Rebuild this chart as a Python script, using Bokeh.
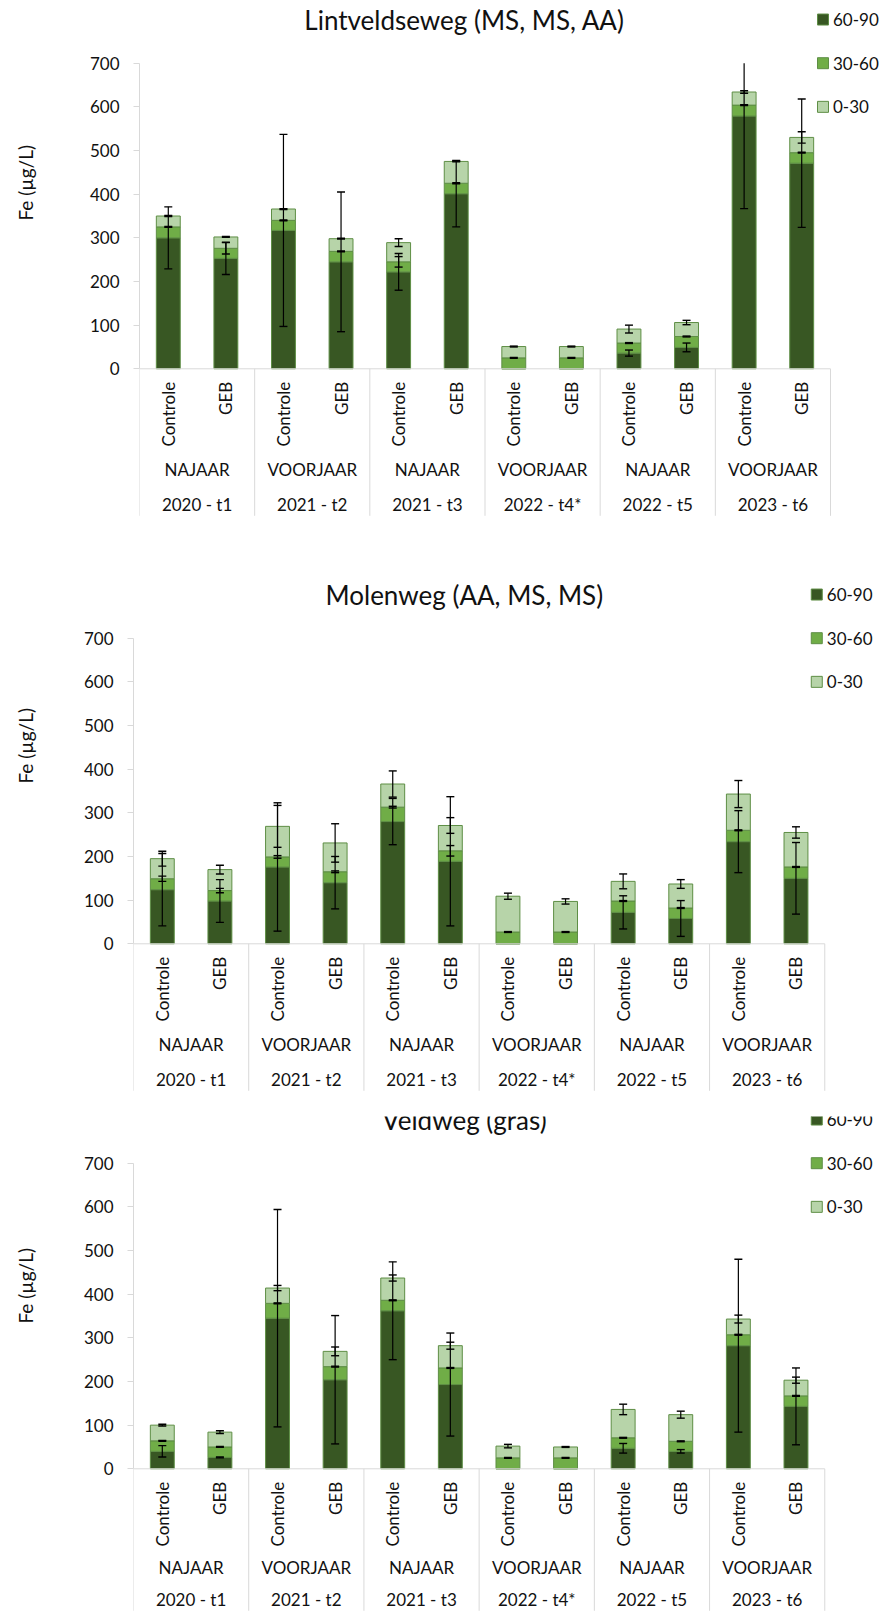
import numpy as np
from bokeh.plotting import figure
from bokeh.models import ColumnDataSource, Range1d, LinearAxis, FixedTicker
from bokeh.layouts import column, row
from bokeh.embed import file_html
from bokeh.resources import INLINE
from bokeh.core.properties import value

# ---- categories ---------------------------------------------------------
periods = ["2020 - t1", "2021 - t2", "2021 - t3", "2022 - t4*", "2022 - t5", "2023 - t6"]
seasons = ["NAJAAR", "VOORJAAR", "NAJAAR", "VOORJAAR", "NAJAAR", "VOORJAAR"]
treatments = ["Controle", "GEB"]
layers = ["60-90", "30-60", "0-30"]          # soil depth (cm), bottom to top of the stack
y_ticks = [0, 100, 200, 300, 400, 500, 600, 700]

# ---- Lintveldseweg (MS, MS, AA): Fe (ug/L) per depth layer -----------------
lint_6090 = [300, 253, 317, 245, 222, 401, 0, 0, 36, 49, 579, 471]
lint_3060 = [25, 23, 23, 24, 23, 24, 25, 25, 23, 25, 25, 24]
lint_030 = [25, 26, 26, 29, 44, 50, 26, 26, 32, 32, 30, 35]
lint_err_6090 = [71, 37, 220, 160, 42, 76, 0, 0, 7, 10, 212, 147]
lint_err_3060 = [1, 13, 1, 1, 12, 1, 1, 1, 1, 1, 1, 1]
lint_err_030 = [1, 1, 1, 1, 9, 1, 1, 1, 9, 5, 3, 13]

# ---- Molenweg (AA, MS, MS) -----------------------------------------------
mol_6090 = [124, 98, 176, 140, 280, 189, 0, 0, 72, 58, 234, 150]
mol_3060 = [25, 24, 23, 25, 33, 24, 27, 27, 26, 24, 26, 26]
mol_030 = [46, 48, 70, 66, 53, 58, 82, 70, 45, 55, 83, 79]
mol_err_6090 = [83, 49, 147, 60, 53, 148, 0, 0, 38, 41, 71, 82]
mol_err_3060 = [6, 5, 3, 2, 2, 12, 1, 1, 1, 1, 1, 1]
mol_err_030 = [17, 10, 48, 44, 30, 18, 7, 6, 17, 10, 31, 13]

# ---- Veldweg (gras) ------------------------------------------------------
veld_6090 = [40, 26, 345, 204, 362, 193, 0, 0, 47, 40, 282, 143]
veld_3060 = [24, 24, 34, 30, 24, 38, 25, 25, 24, 23, 25, 24]
veld_030 = [36, 34, 35, 35, 51, 51, 27, 25, 65, 61, 36, 36]
veld_err_6090 = [13, 1, 249, 147, 112, 118, 0, 0, 11, 4, 198, 88]
veld_err_3060 = [1, 1, 1, 1, 1, 1, 1, 1, 1, 1, 1, 1]
veld_err_030 = [2, 3, 6, 10, 7, 8, 4, 1, 12, 8, 9, 7]

# ---- styling -------------------------------------------------------------
FONT = "Lato"
COLORS = ["#385723", "#70AD47", "#B7D4A9"]
OUTLINE = "#5E8E45"
AXIS_GREY = "#D9D9D9"
TEXT = "#111111"
Y_MAX = 700

WIDTH = 880
LABEL_W = 50                 # strip on the left that holds the value-axis title
PLOT_PX = 305.6              # pixel height of the 0-700 scale
PXU = PLOT_PX / Y_MAX        # pixels per ug/L
CAT_PX = 691 / 12            # pixel width of one category slot
BAR_W = 0.415


def bare_figure(width, height, x_range, y_range, left=0):
    f = figure(width=width, height=height, output_backend="svg", toolbar_location=None,
               x_range=x_range, y_range=y_range,
               x_axis_location=None, y_axis_location=None,
               min_border_left=left, min_border_right=0,
               min_border_top=0, min_border_bottom=0)
    f.outline_line_color = None
    f.background_fill_color = "white"
    f.border_fill_color = "white"
    f.grid.visible = False
    return f


def make_chart(title, seg_values, seg_errors, fig_h, top_px, left_px, legend_px,
               ylabel_above=186, season_px=101, period_px=136, title_px=464):
    n = len(periods) * len(treatments)
    xs = np.arange(n) + 0.5
    y_end = Y_MAX + top_px / PXU
    y_start = -(fig_h - top_px - PLOT_PX) / PXU
    main_w = WIDTH - LABEL_W
    border = left_px - LABEL_W
    p = bare_figure(main_w, fig_h, Range1d(0, (main_w - border) / CAT_PX),
                    Range1d(y_start, y_end), left=int(round(border)))

    # value axis
    yaxis = LinearAxis(ticker=FixedTicker(ticks=y_ticks), bounds=(0, Y_MAX),
                       axis_line_color=AXIS_GREY, major_tick_line_color=AXIS_GREY,
                       major_tick_out=6, major_tick_in=0, minor_tick_line_color=None,
                       major_label_text_font=FONT, major_label_text_font_size="17px",
                       major_label_text_color=TEXT, major_label_standoff=14)
    p.add_layout(yaxis, "left")

    # axis title in its own strip (pixel coordinates, origin bottom-left)
    lab = bare_figure(LABEL_W, fig_h, Range1d(0, LABEL_W), Range1d(0, fig_h))
    label_centre = top_px + PLOT_PX - ylabel_above
    lab.text(x=[25], y=[fig_h - label_centre], text=["Fe (µg/L)"], angle=np.pi / 2,
             text_align="center", text_baseline="middle", text_font=value(FONT),
             text_font_size="19px", text_color=TEXT)

    # stacked bars
    data = {"x": xs}
    for name, vals in zip(layers, seg_values):
        data[name] = vals
    src = ColumnDataSource(data)
    p.vbar_stack(layers, x="x", width=BAR_W, source=src, fill_color=COLORS,
                 line_color=OUTLINE, line_width=1)

    # error bars on the top of every layer
    cum = np.zeros(n)
    stem = {"x0": [], "y0": [], "x1": [], "y1": []}
    caps = {"x": [], "y": []}
    for vals, errs in zip(seg_values, seg_errors):
        vals = np.asarray(vals, float)
        errs = np.asarray(errs, float)
        cum = cum + vals
        for i in range(n):
            if vals[i] <= 0:
                continue
            lo = cum[i] - errs[i]
            hi = cum[i] + errs[i]
            stem["x0"].append(xs[i]); stem["x1"].append(xs[i])
            stem["y0"].append(lo); stem["y1"].append(min(hi, Y_MAX))
            caps["x"].append(xs[i]); caps["y"].append(lo)
            if hi <= Y_MAX:
                caps["x"].append(xs[i]); caps["y"].append(hi)
    p.segment(x0="x0", y0="y0", x1="x1", y1="y1", source=ColumnDataSource(stem),
              line_color="black", line_width=1.2)
    p.scatter(x="x", y="y", source=ColumnDataSource(caps), marker="dash", size=8,
              line_color="black", line_width=1.4)

    # category axis: baseline, group separators and three label rows
    p.segment(x0=[0], y0=[0], x1=[n], y1=[0], line_color=AXIS_GREY, line_width=1)
    sep_x = np.arange(0, n + 1, len(treatments))
    p.segment(x0=sep_x, y0=np.zeros(len(sep_x)), x1=sep_x,
              y1=np.full(len(sep_x), -(period_px + 11) / PXU),
              line_color=AXIS_GREY, line_width=1)
    p.text(x=xs, y=np.full(n, -13 / PXU), text=treatments * len(periods),
           angle=np.pi / 2, text_align="right", text_baseline="middle",
           text_font=value(FONT), text_font_size="17px", text_color=TEXT)
    gx = np.arange(len(periods)) * len(treatments) + len(treatments) / 2
    p.text(x=gx, y=np.full(len(gx), -season_px / PXU), text=seasons, text_align="center",
           text_baseline="middle", text_font=value(FONT), text_font_size="17px", text_color=TEXT)
    p.text(x=gx, y=np.full(len(gx), -period_px / PXU), text=periods, text_align="center",
           text_baseline="middle", text_font=value(FONT), text_font_size="17px", text_color=TEXT)

    # title and legend
    p.text(x=[(title_px - left_px) / CAT_PX], y=[800], text=[title], text_align="center",
           text_baseline="middle", text_font=value(FONT), text_font_size="26px",
           text_color=TEXT)
    ly = [800, 700, 600]
    lx = (legend_px - left_px) / CAT_PX
    p.scatter(x=[lx] * 3, y=ly, marker="square", size=11, fill_color=COLORS,
              line_color=OUTLINE, line_width=1)
    p.text(x=[lx + 10 / CAT_PX] * 3, y=ly, text=layers, text_align="left",
           text_baseline="middle", text_font=value(FONT), text_font_size="17px",
           text_color=TEXT)
    return row(lab, p, spacing=0)


c1 = make_chart("Lintveldseweg (MS, MS, AA)",
                [lint_6090, lint_3060, lint_030],
                [lint_err_6090, lint_err_3060, lint_err_030],
                fig_h=575, top_px=62.7, left_px=139, legend_px=822.5, ylabel_above=186)
c2 = make_chart("Molenweg (AA, MS, MS)",
                [mol_6090, mol_3060, mol_030],
                [mol_err_6090, mol_err_3060, mol_err_030],
                fig_h=541, top_px=62.7, left_px=133.3, legend_px=816.3, ylabel_above=198)
c3 = make_chart("Veldweg (gras)",
                [veld_6090, veld_3060, veld_030],
                [veld_err_6090, veld_err_3060, veld_err_030],
                fig_h=496, top_px=46.7, left_px=133.3, legend_px=816.3, ylabel_above=183,
                season_px=99, period_px=131)

layout = column(c1, c2, c3, spacing=0)
open("out.html", "w").write(file_html(layout, INLINE))
